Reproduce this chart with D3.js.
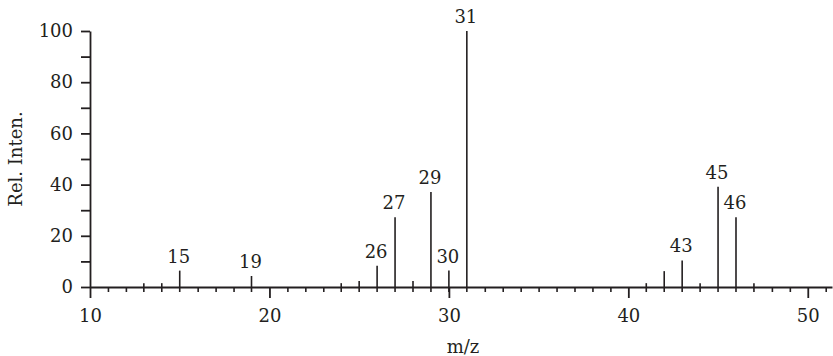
<!DOCTYPE html>
<html>
<head>
<meta charset="utf-8">
<script src="https://cdn.jsdelivr.net/npm/d3@7"></script>
<style>
  body { margin: 0; background: #fff; }
  svg text { font-family: "DejaVu Serif", serif; fill: #231f20; }
</style>
</head>
<body>
<div id="chart"></div>
<script>
// peaks (m/z and relative intensity)
const mz = [13, 14, 15, 19, 24, 25, 26, 27, 28, 29, 30, 31, 41, 42, 43, 44, 45, 46, 47];
const intensity = [1.5, 1.5, 6.4, 4.3, 1.5, 2.3, 8.3, 27.2, 2.3, 37.1, 6.4, 100, 1.5, 6.2, 10.4, 1.5, 39.2, 27.2, 1.5];
const labeled = [15, 19, 26, 27, 29, 30, 31, 43, 45, 46];

const xMajor = [10, 20, 30, 40, 50];
const yMajor = [0, 20, 40, 60, 80, 100];
const yMinor = [10, 30, 50, 70, 90];

const width = 833;
const height = 356;
const margin = { top: 31, right: 1, bottom: 69, left: 90 };
const ink = '#231f20';

const peaks = mz.map((m, i) => ({ mz: m, value: intensity[i] }));

const svg = d3.select('#chart').append('svg')
    .attr('width', width)
    .attr('height', height);

const x = d3.scaleLinear()
    .domain([10, 51.35])
    .range([margin.left, width - margin.right]);

const y = d3.scaleLinear()
    .domain([0, 100])
    .range([height - margin.bottom, margin.top]);

const y0 = y(0);
const minorLen = 5;

// x axis: minor ticks at each integer, then majors with labels
const xMinorTicks = d3.range(11, 52).filter(v => !xMajor.includes(v) && !mz.includes(v));
svg.append('g')
    .attr('transform', `translate(0, ${y0})`)
    .call(d3.axisBottom(x).tickValues(xMinorTicks).tickSize(minorLen).tickSizeOuter(0).tickFormat(''))
    .call(g => g.select('.domain').remove())
    .call(g => g.selectAll('line').attr('stroke', ink).attr('stroke-width', 1.6));

svg.append('g')
    .attr('transform', `translate(0, ${y0})`)
    .call(d3.axisBottom(x).tickValues(xMajor).tickSize(11).tickSizeOuter(0).tickPadding(11).tickFormat(d3.format('d')))
    .call(g => g.select('.domain').attr('stroke', ink).attr('stroke-width', 1.8))
    .call(g => g.selectAll('line').attr('stroke', ink).attr('stroke-width', 1.8))
    .call(g => g.selectAll('text').attr('font-size', 18).attr('fill', ink));

// y axis
svg.append('g')
    .attr('transform', `translate(${margin.left}, 0)`)
    .call(d3.axisLeft(y).tickValues(yMinor).tickSize(9).tickFormat(''))
    .call(g => g.select('.domain').remove())
    .call(g => g.selectAll('line').attr('stroke', ink).attr('stroke-width', 1.8));

svg.append('g')
    .attr('transform', `translate(${margin.left}, 0)`)
    .call(d3.axisLeft(y).tickValues(yMajor).tickSize(9).tickSizeOuter(0).tickPadding(8).tickFormat(d3.format('d')))
    .call(g => g.select('.domain').attr('stroke', ink).attr('stroke-width', 1.8))
    .call(g => g.selectAll('line').attr('stroke', ink).attr('stroke-width', 1.8))
    .call(g => g.selectAll('text').attr('font-size', 18).attr('fill', ink));

// peaks
svg.append('g')
    .selectAll('line')
    .data(peaks)
    .join('line')
    .attr('x1', d => x(d.mz))
    .attr('x2', d => x(d.mz))
    .attr('y1', d => y(d.value))
    .attr('y2', y0 + minorLen)
    .attr('stroke', ink)
    .attr('stroke-width', 1.6);

// peak labels
svg.append('g')
    .selectAll('text')
    .data(peaks.filter(d => labeled.includes(d.mz)))
    .join('text')
    .attr('x', d => x(d.mz) - 1)
    .attr('y', d => y(d.value) - 8)
    .attr('text-anchor', 'middle')
    .attr('font-size', 18)
    .text(d => d.mz);

// axis titles
svg.append('text')
    .attr('x', (x(10) + x(51.35)) / 2 + 2)
    .attr('y', 353)
    .attr('text-anchor', 'middle')
    .attr('font-size', 18)
    .text('m/z');

svg.append('text')
    .attr('transform', `translate(22, ${(y(0) + y(100)) / 2}) rotate(-90)`)
    .attr('text-anchor', 'middle')
    .attr('font-size', 18)
    .text('Rel. Inten.');
</script>
</body>
</html>
